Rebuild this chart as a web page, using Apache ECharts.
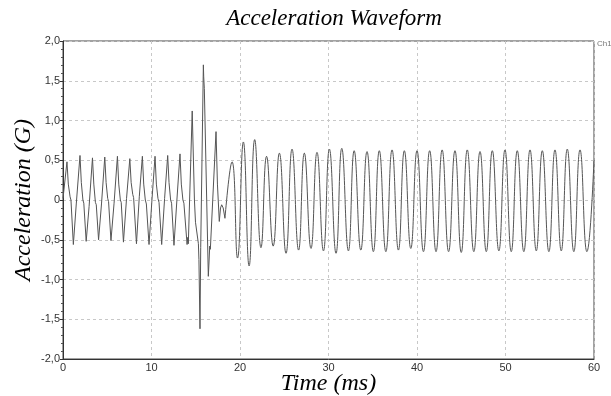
<!DOCTYPE html>
<html><head><meta charset="utf-8">
<script src="https://cdn.jsdelivr.net/npm/echarts@6/dist/echarts.min.js"></script>
<style>html,body{margin:0;padding:0;background:#fff}#c{width:611px;height:396px}</style>
</head><body><div id="c"></div>
<script>
// Early part of the record (0 - 18.3 ms), sharp peaks with shoulders, and the burst
const earlyTimes = [
  0, 0.45, 0.6, 0.8, 0.9, 1.17, 1.5,
  1.92, 2.07, 2.25, 2.35, 2.62, 2.95,
  3.33, 3.48, 3.66, 3.76, 4.02, 4.35,
  4.72, 4.87, 5.05, 5.15, 5.42, 5.77,
  6.15, 6.3, 6.48, 6.58, 6.83, 7.18,
  7.55, 7.7, 7.88, 7.98, 8.3, 8.62,
  8.97, 9.12, 9.3, 9.42, 9.72, 10.05,
  10.4, 10.55, 10.73, 10.85, 11.15, 11.48,
  11.83, 11.98, 12.16, 12.27, 12.54, 12.87,
  13.22, 13.37, 13.55, 13.66, 14.02, 14.1, 14.16,
  14.6, 14.85, 14.97, 15.1, 15.3, 15.36, 15.48, 15.56, 15.86, 15.9, 15.97,
  16.42, 16.5, 16.58, 16.65, 17.29, 17.45, 17.66, 17.8, 17.93, 18.1, 18.3
];
const earlyValues = [
  0.02, 0.48, 0.2, 0.04, 0.0, -0.56, -0.05,
  0.56, 0.22, 0.0, -0.04, -0.52, -0.08,
  0.53, 0.2, -0.03, -0.06, -0.50, -0.05,
  0.54, 0.22, 0.02, -0.02, -0.51, -0.04,
  0.55, 0.2, 0.0, -0.03, -0.53, 0.02,
  0.52, 0.22, 0.07, 0.03, -0.55, 0.04,
  0.55, 0.2, 0.0, -0.05, -0.56, 0.0,
  0.55, 0.2, 0.02, -0.03, -0.56, 0.02,
  0.56, 0.22, 0.0, -0.04, -0.57, 0.0,
  0.58, 0.2, 0.0, -0.04, -0.56, -0.47, -0.55,
  1.12, 0.0, -0.28, -0.3, -0.55, -0.75, -1.62, -0.6, 1.70, 1.55, 1.40,
  -0.96, -0.78, -0.58, -0.62, 0.86, 0.2, -0.27, -0.1, -0.06, -0.1, -0.23
];
// Steady oscillation (18.3 - 60 ms): peaks and troughs
const lateTimes = [
  18.3, 19.1, 19.72, 20.38, 21.03, 21.66, 22.37, 23.0, 23.75, 24.45,
  25.2, 25.88, 26.62, 27.27, 28.02, 28.7, 29.43, 30.1, 30.85, 31.5,
  32.25, 32.9, 33.65, 34.35, 35.07, 35.74, 36.48, 37.18, 37.9, 38.57,
  39.3, 40.0, 40.73, 41.43, 42.15, 42.84, 43.57, 44.29, 45.0, 45.68,
  46.42, 47.12, 47.83, 48.51, 49.25, 49.94, 50.65, 51.33, 52.07, 52.77,
  53.48, 54.16, 54.9, 55.59, 56.3, 56.98, 57.72, 58.42, 59.2, 60
];
const lateValues = [
  -0.23, 0.48, -0.73, 0.73, -0.83, 0.76, -0.60, 0.55, -0.58, 0.59,
  -0.67, 0.64, -0.63, 0.59, -0.61, 0.60, -0.64, 0.64, -0.67, 0.65,
  -0.64, 0.62, -0.63, 0.61, -0.65, 0.62, -0.65, 0.63, -0.63, 0.62,
  -0.61, 0.62, -0.65, 0.62, -0.65, 0.63, -0.65, 0.62, -0.66, 0.63,
  -0.65, 0.61, -0.65, 0.62, -0.64, 0.63, -0.65, 0.62, -0.65, 0.63,
  -0.64, 0.62, -0.65, 0.63, -0.64, 0.64, -0.65, 0.63, -0.65, 0.5
];
const xTicks = [0, 10, 20, 30, 40, 50, 60];
const yTicks = [-2, -1.5, -1, -0.5, 0, 0.5, 1, 1.5, 2];

const zip = (a, b) => a.map((t, i) => [t, b[i]]);
const chart = echarts.init(document.getElementById('c'), null, {renderer: 'canvas'});
const serif = '"Liberation Serif", "DejaVu Serif", serif';
const sans = '"Liberation Sans", Arial, sans-serif';
const lineStyle = {color: '#555', width: 1};
chart.setOption({
  animation: false,
  backgroundColor: '#fff',
  title: {
    text: 'Acceleration Waveform',
    left: 329, top: 2, textAlign: 'center',
    textStyle: {fontFamily: serif, fontStyle: 'italic', fontWeight: 'normal', fontSize: 23, color: '#000'}
  },
  grid: {left: 63, right: 17, top: 41, bottom: 37, show: true, borderColor: '#444', borderWidth: 1,
    containLabel: false, outerBoundsMode: 'none'},
  xAxis: {
    type: 'value', min: xTicks[0], max: xTicks[xTicks.length - 1], interval: 10,
    name: 'Time (ms)', nameLocation: 'middle', nameGap: 13, nameMoveOverlap: false,
    nameTextStyle: {fontFamily: serif, fontStyle: 'italic', fontSize: 24, color: '#000', verticalAlign: 'top'},
    axisLine: {onZero: false, lineStyle: {color: '#333', width: 1}},
    axisTick: {show: false},
    axisLabel: {fontFamily: sans, fontSize: 11, color: '#333', margin: 3},
    splitLine: {show: true, lineStyle: {color: '#c8c8c8', type: [3, 3]}}
  },
  yAxis: {
    type: 'value', min: yTicks[0], max: yTicks[yTicks.length - 1], interval: 0.5,
    name: 'Acceleration (G)', nameLocation: 'middle', nameGap: 27, nameMoveOverlap: false,
    nameTextStyle: {fontFamily: serif, fontStyle: 'italic', fontSize: 24, color: '#000'},
    axisLine: {show: true, onZero: false, lineStyle: {color: '#333', width: 1}},
    axisTick: {show: true, length: 3, lineStyle: {color: '#333'}},
    minorTick: {show: true, splitNumber: 5, length: 2, lineStyle: {color: '#555'}},
    axisLabel: {fontFamily: sans, fontSize: 11, color: '#333', margin: 3,
      formatter: v => v === 0 ? '0' : v.toFixed(1).replace('.', ',')},
    splitLine: {show: true, lineStyle: {color: '#c8c8c8', type: [3, 3]}}
  },
  graphic: [{
    type: 'text', left: 597, top: 40,
    style: {text: 'Ch1', fontSize: 8, fontFamily: sans, fill: '#777'}
  }],
  series: [
    {type: 'line', data: zip(earlyTimes, earlyValues), showSymbol: false, symbol: 'none', lineStyle, smooth: false},
    {type: 'line', data: zip(lateTimes, lateValues), showSymbol: false, symbol: 'none', lineStyle, smooth: 0.5}
  ]
});
</script>
</body></html>
